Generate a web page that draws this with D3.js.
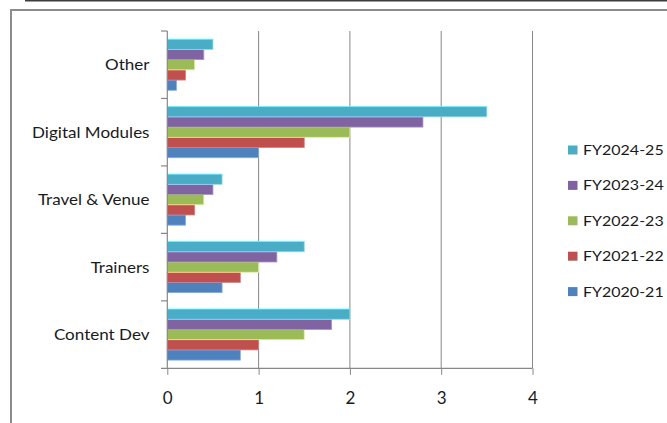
<!DOCTYPE html>
<html>
<head>
<meta charset="utf-8">
<script src="https://cdn.jsdelivr.net/npm/d3@7"></script>
<style>
  html, body { margin: 0; padding: 0; background: #fff; }
  svg { display: block; }
  text { font-family: Lato, "Open Sans", sans-serif; fill: #1a1a1a; }
</style>
</head>
<body>
<svg id="chart" width="667" height="423"></svg>
<script>
// Spend by category, in order from the bottom of the chart upward
const categories = ["Content Dev", "Trainers", "Travel & Venue", "Digital Modules", "Other"];

// Fiscal years, drawn from the bottom bar of each group to the top bar
const seriesNames = ["FY2020-21", "FY2021-22", "FY2022-23", "FY2023-24", "FY2024-25"];

const fy2020 = [0.8, 0.6, 0.2, 1.0, 0.1];
const fy2021 = [1.0, 0.8, 0.3, 1.5, 0.2];
const fy2022 = [1.5, 1.0, 0.4, 2.0, 0.3];
const fy2023 = [1.8, 1.2, 0.5, 2.8, 0.4];
const fy2024 = [2.0, 1.5, 0.6, 3.5, 0.5];

const seriesValues = [fy2020, fy2021, fy2022, fy2023, fy2024];
const seriesColors = ["#4F81BD", "#C0504D", "#9BBB59", "#8064A2", "#4BACC6"];

const xTicks = [0, 1, 2, 3, 4];

const svg = d3.select("#chart");

// Outer frame
svg.append("line")
  .attr("x1", 25).attr("x2", 667).attr("y1", 0.75).attr("y2", 0.75)
  .attr("stroke", "#3c3c3c").attr("stroke-width", 1.5);
svg.append("rect")
  .attr("x", 11).attr("y", 10).attr("width", 680).attr("height", 440)
  .attr("fill", "none").attr("stroke", "#8c8c8c").attr("stroke-width", 2);

const plot = { left: 167.3, right: 532.5, top: 31, bottom: 368.3 };

const x = d3.scaleLinear().domain([0, 4]).range([plot.left, plot.right]);

// Category slots run top to bottom, so reverse the list for the band scale
const y = d3.scaleBand()
  .domain(categories.slice().reverse())
  .range([plot.top, plot.bottom])
  .padding(0);

const bw = y.bandwidth();
const inner = d3.scaleBand()
  .domain(seriesNames.slice().reverse())
  .range([bw * 0.1215, bw * (1 - 0.1215)])
  .padding(0);

// Vertical gridlines
svg.append("g")
  .selectAll("line")
  .data(xTicks.filter(d => d > 0))
  .join("line")
  .attr("x1", d => x(d)).attr("x2", d => x(d))
  .attr("y1", plot.top).attr("y2", plot.bottom)
  .attr("stroke", "#878787").attr("stroke-width", 1);

// Bars
const lighten = c => d3.color(c).brighter(0.9).formatHex();
const groups = svg.append("g")
  .selectAll("g")
  .data(categories)
  .join("g")
  .attr("transform", c => `translate(0,${y(c)})`);

groups.selectAll("rect")
  .data((c, ci) => seriesNames.map((s, si) => ({ s, si, v: seriesValues[si][ci] })))
  .join("rect")
  .attr("x", x(0))
  .attr("y", d => inner(d.s))
  .attr("width", d => x(d.v) - x(0))
  .attr("height", inner.bandwidth())
  .attr("fill", d => seriesColors[d.si])
  .attr("stroke", d => lighten(seriesColors[d.si]))
  .attr("stroke-width", 0.8);

// Value axis along the bottom
const xAxis = svg.append("g")
  .attr("transform", `translate(0,${plot.bottom})`)
  .call(d3.axisBottom(x).tickValues(xTicks).tickSize(6.5).tickPadding(17).tickFormat(d3.format("d")));
xAxis.select(".domain").remove();
xAxis.append("line")
  .attr("x1", plot.left - 6.3).attr("x2", plot.right)
  .attr("stroke", "#878787").attr("stroke-width", 1.2);
xAxis.selectAll(".tick line").attr("stroke", "#878787");
xAxis.selectAll(".tick text")
  .style("font-family", "Lato, 'Open Sans', sans-serif")
  .attr("font-size", 17).attr("fill", "#1a1a1a");

// Category axis on the left, ticks at slot boundaries
const catAxis = svg.append("g");
catAxis.append("line")
  .attr("x1", plot.left).attr("x2", plot.left)
  .attr("y1", plot.top).attr("y2", plot.bottom)
  .attr("stroke", "#878787").attr("stroke-width", 1.2);
catAxis.selectAll("line.b")
  .data(d3.range(categories.length))
  .join("line")
  .attr("class", "b")
  .attr("x1", plot.left - 6.3).attr("x2", plot.left)
  .attr("y1", i => plot.top + i * y.step()).attr("y2", i => plot.top + i * y.step())
  .attr("stroke", "#878787").attr("stroke-width", 1.2);
catAxis.selectAll("text")
  .data(categories)
  .join("text")
  .attr("transform", c => `translate(149.5,${y(c) + bw / 2}) scale(1.1,1)`)
  .attr("dy", "0.36em")
  .attr("text-anchor", "end")
  .attr("font-size", 15.5)
  .text(c => c);

// Legend, newest year on top
const legend = svg.append("g");
const legendItems = legend.selectAll("g")
  .data(seriesNames.slice().reverse())
  .join("g")
  .attr("transform", (s, i) => `translate(568,${150 + i * 35.4})`);
legendItems.append("rect")
  .attr("x", 0).attr("y", -4.5).attr("width", 9.5).attr("height", 9)
  .attr("fill", s => seriesColors[seriesNames.indexOf(s)]);
legendItems.append("text")
  .attr("transform", "translate(15,0) scale(1.16,1)")
  .attr("dy", "0.36em")
  .attr("font-size", 13.8)
  .text(s => s);
</script>
</body>
</html>
